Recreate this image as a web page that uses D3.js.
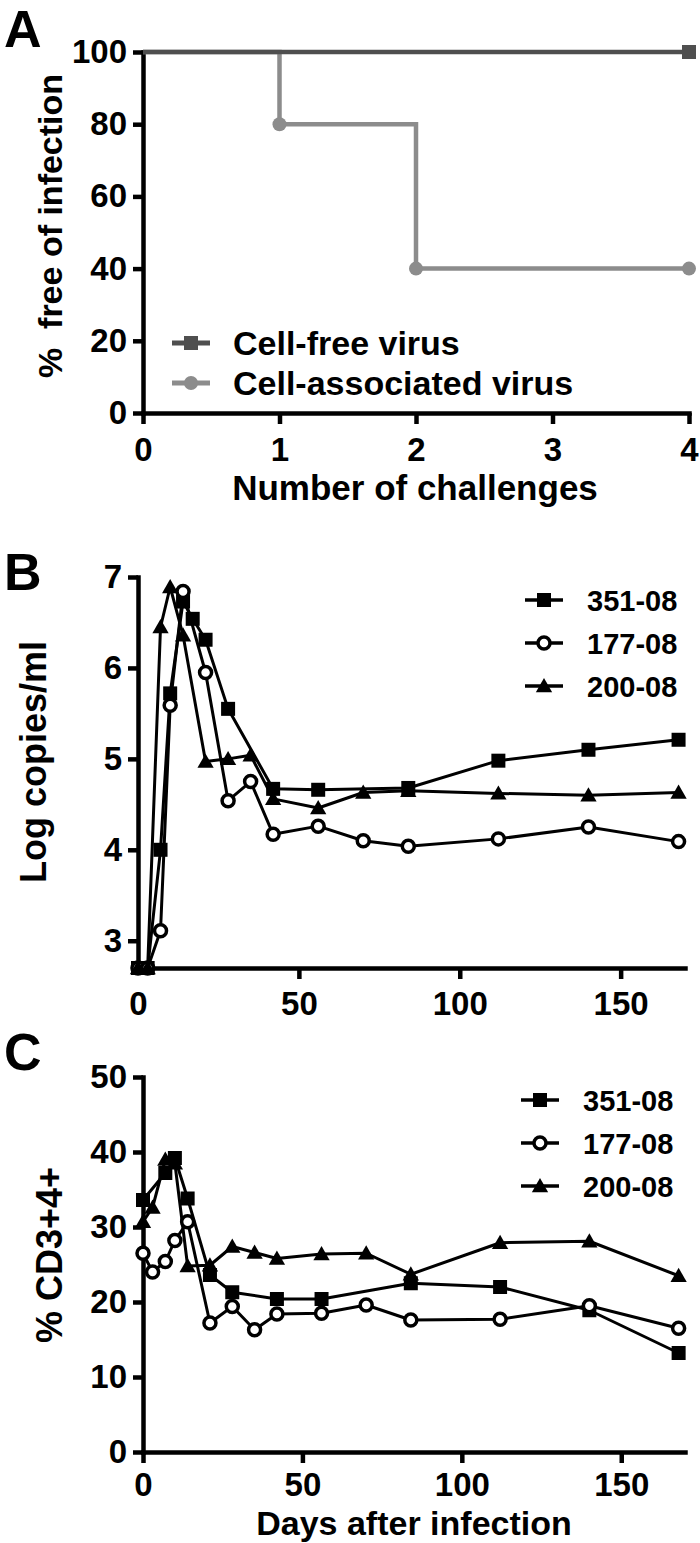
<!DOCTYPE html>
<html><head><meta charset="utf-8">
<script src="https://cdn.jsdelivr.net/npm/d3@7"></script>
<style>
body{margin:0;background:#fff}
svg{display:block}
text{font-family:"Liberation Sans",Arial,sans-serif;font-weight:bold;fill:#000}
</style>
</head><body>
<svg id="chart" width="700" height="1543"></svg>
<script>
// ---------- Panel A data ----------
const challenges = [0, 1, 2, 4];
const cellFree = [100, 100, 100, 100];
const cellAssoc = [100, 80, 40, 40];
const cellFreeMarks = [4];
const cellAssocMarks = [1, 2, 4];
const aXTicks = [0, 1, 2, 3, 4];
const aYTicks = [0, 20, 40, 60, 80, 100];
const aLegend = ["Cell-free virus", "Cell-associated virus"];

// ---------- Panel B data (log copies/ml) ----------
const daysB351 = [0, 3, 7, 10, 14, 17, 21, 28, 42, 56, 84, 112, 140, 168];
const logB351  = [2.7, 2.7, 4.0, 5.72, 6.73, 6.54, 6.31, 5.55, 4.67, 4.66, 4.68, 4.98, 5.10, 5.21];
const daysB177 = [0, 3, 7, 10, 14, 21, 28, 35, 42, 56, 70, 84, 112, 140, 168];
const logB177  = [2.7, 2.7, 3.11, 5.59, 6.84, 5.95, 4.54, 4.75, 4.17, 4.26, 4.10, 4.04, 4.12, 4.25, 4.09];
const daysB200 = [0, 3, 7, 10, 14, 21, 28, 35, 42, 56, 70, 84, 112, 140, 168];
const logB200  = [2.7, 2.7, 6.45, 6.89, 6.36, 4.97, 5.00, 5.04, 4.56, 4.46, 4.63, 4.65, 4.62, 4.60, 4.63];
const bXTicks = [0, 50, 100, 150];
const bYTicks = [3, 4, 5, 6, 7];

// ---------- Panel C data (% CD3+4+) ----------
const daysC351 = [0, 7, 10, 14, 21, 28, 42, 56, 84, 112, 140, 168];
const pctC351  = [33.6, 37.2, 39.2, 33.8, 23.6, 21.3, 20.4, 20.4, 22.5, 22.0, 18.9, 13.2];
const daysC177 = [0, 3, 7, 10, 14, 21, 28, 35, 42, 56, 70, 84, 112, 140, 168];
const pctC177  = [26.5, 24.0, 25.4, 28.2, 30.7, 17.2, 19.4, 16.3, 18.4, 18.5, 19.6, 17.6, 17.7, 19.5, 16.5];
const daysC200 = [0, 3, 7, 10, 14, 21, 28, 35, 42, 56, 70, 84, 112, 140, 168];
const pctC200  = [30.7, 32.6, 39.0, 38.5, 24.8, 24.9, 27.4, 26.6, 25.8, 26.4, 26.5, 23.7, 27.9, 28.1, 23.5];
const cXTicks = [0, 50, 100, 150];
const cYTicks = [0, 10, 20, 30, 40, 50];

const animals = ["351-08", "177-08", "200-08"];
const symbols = ["square", "circle", "triangle"];

const svg = d3.select("#chart");
const AXW = 4.5;
const fmt = d3.format("d");

function styleAxis(g, fs) {
  g.select(".domain").attr("stroke", "#000").attr("stroke-width", AXW).attr("stroke-linecap", "square");
  g.selectAll(".tick line").attr("stroke", "#000").attr("stroke-width", AXW);
  g.selectAll(".tick text").style("font-size", fs + "px").style("font-weight", "bold")
    .style("font-family", '"Liberation Sans",Arial,sans-serif').attr("fill", "#000");
}

function marker(g, type, cx, cy, color) {
  if (type === "square") {
    g.append("rect").attr("x", cx - 7).attr("y", cy - 7).attr("width", 14).attr("height", 14).attr("fill", color);
  } else if (type === "circle") {
    g.append("circle").attr("cx", cx).attr("cy", cy).attr("r", 6).attr("fill", "#fff").attr("stroke", color).attr("stroke-width", 3.5);
  } else if (type === "triangle") {
    g.append("path").attr("d", d3.symbol().type(d3.symbolTriangle).size(115)()).attr("transform", `translate(${cx},${cy + 1.5})`).attr("fill", color);
  } else if (type === "dot") {
    g.append("circle").attr("cx", cx).attr("cy", cy).attr("r", 7).attr("fill", color);
  }
}

// ================= Panel A =================
{
  const x = d3.scaleLinear().domain([0, 4]).range([143, 689]);
  const y = d3.scaleLinear().domain([0, 100]).range([413, 52]);
  const g = svg.append("g");
  g.append("text").attr("x", 4).attr("y", 47).style("font-size", "52px").text("A");

  const ya = g.append("g").attr("transform", `translate(${x(0)},0)`)
    .call(d3.axisLeft(y).tickValues(aYTicks).tickFormat(fmt).tickSize(10).tickSizeOuter(0).tickPadding(6));
  styleAxis(ya, 33);
  const xa = g.append("g").attr("transform", `translate(0,${y(0)})`)
    .call(d3.axisBottom(x).tickValues(aXTicks).tickFormat(fmt).tickSize(11).tickSizeOuter(0).tickPadding(14));
  styleAxis(xa, 33);

  const line = d3.line().x((d) => x(d[0])).y((d) => y(d[1])).curve(d3.curveStepAfter);
  const colAssoc = "#8c8c8c", colFree = "#4f4f4f";
  const assocPts = challenges.map((c, i) => [c, cellAssoc[i]]);
  const freePts = challenges.map((c, i) => [c, cellFree[i]]);
  g.append("path").attr("d", line(assocPts)).attr("fill", "none").attr("stroke", colAssoc).attr("stroke-width", 4.5);
  g.append("path").attr("d", line(freePts)).attr("fill", "none").attr("stroke", colFree).attr("stroke-width", 4.5);
  cellAssocMarks.forEach((c) => marker(g, "dot", x(c), y(cellAssoc[challenges.indexOf(c)]), colAssoc));
  cellFreeMarks.forEach((c) => marker(g, "square", x(c), y(cellFree[challenges.indexOf(c)]), colFree));

  // legend
  const legCols = [colFree, colAssoc], legSyms = ["square", "dot"];
  aLegend.forEach((t, i) => {
    const ly = 343 + i * 40;
    g.append("line").attr("x1", 172).attr("x2", 210).attr("y1", ly).attr("y2", ly).attr("stroke", legCols[i]).attr("stroke-width", 5);
    marker(g, legSyms[i], 191, ly, legCols[i]);
    g.append("text").attr("x", 233).attr("y", ly + 12).style("font-size", "34px").text(t);
  });

  g.append("text").attr("transform", `translate(62,226) rotate(-90)`).attr("text-anchor", "middle")
    .style("font-size", "34px").style("white-space", "pre").text("%  free of infection");
  g.append("text").attr("x", 415).attr("y", 500).attr("text-anchor", "middle").style("font-size", "35px").text("Number of challenges");
}

function timePanel(opts) {
  const { x, y, series, label, labelY, yTitle, yTitleY, xTitle, legendY, legendX, xTicks, yTicks } = opts;
  const g = svg.append("g");
  g.append("text").attr("x", 4).attr("y", labelY).style("font-size", "52px").text(label);
  const ya = g.append("g").attr("transform", `translate(${x(0)},0)`)
    .call(d3.axisLeft(y).tickValues(yTicks).tickFormat(fmt).tickSize(10).tickSizeOuter(0).tickPadding(6));
  styleAxis(ya, 33);
  const xa = g.append("g").attr("transform", `translate(0,${y.range()[0]})`)
    .call(d3.axisBottom(x).tickValues(xTicks).tickFormat(fmt).tickSize(11).tickSizeOuter(0).tickPadding(opts.xPad));
  styleAxis(xa, 33);
  if (opts.hideZeroTick) xa.selectAll(".tick line").filter((d) => d === 0).remove();

  const line = d3.line().x((d) => x(d[0])).y((d) => y(d[1]));
  series.forEach((s) => {
    const pts = s.days.map((d, i) => [d, s.vals[i]]);
    g.append("path").attr("d", line(pts)).attr("fill", "none").attr("stroke", "#000").attr("stroke-width", 3).attr("stroke-linejoin", "round");
  });
  series.forEach((s) => {
    s.days.forEach((d, i) => marker(g, s.sym, x(d), y(s.vals[i]), "#000"));
  });
  // legend
  series.forEach((s, i) => {
    const ly = legendY + i * 43;
    g.append("line").attr("x1", legendX).attr("x2", legendX + 38).attr("y1", ly).attr("y2", ly).attr("stroke", "#000").attr("stroke-width", 3.5);
    marker(g, s.sym, legendX + 19, ly, "#000");
    g.append("text").attr("x", legendX + 62).attr("y", ly + 10.5).style("font-size", "29px").text(s.name);
  });
  g.append("text").attr("transform", `translate(${opts.yTitleX},${yTitleY}) rotate(-90)`).attr("text-anchor", "middle")
    .style("font-size", "36px").style("white-space", "pre").text(yTitle);
  if (xTitle) g.append("text").attr("x", 414).attr("y", 1535).attr("text-anchor", "middle").style("font-size", "34px").text(xTitle);
}

// ================= Panel B =================
timePanel({
  x: d3.scaleLinear().domain([0, 170]).range([138, 685]),
  y: d3.scaleLinear().domain([2.7, 7]).range([968, 577]),
  series: [
    { name: animals[0], sym: symbols[0], days: daysB351, vals: logB351 },
    { name: animals[1], sym: symbols[1], days: daysB177, vals: logB177 },
    { name: animals[2], sym: symbols[2], days: daysB200, vals: logB200 }
  ],
  label: "B", labelY: 590, yTitle: "Log copies/ml", yTitleX: 46, yTitleY: 762,
  legendY: 600, legendX: 525, xTicks: bXTicks, yTicks: bYTicks, hideZeroTick: true, xPad: 13
});

// ================= Panel C =================
timePanel({
  x: d3.scaleLinear().domain([0, 170]).range([143, 685]),
  y: d3.scaleLinear().domain([0, 50]).range([1452, 1077]),
  series: [
    { name: animals[0], sym: symbols[0], days: daysC351, vals: pctC351 },
    { name: animals[1], sym: symbols[1], days: daysC177, vals: pctC177 },
    { name: animals[2], sym: symbols[2], days: daysC200, vals: pctC200 }
  ],
  label: "C", labelY: 1070, yTitle: "% CD3+4+", yTitleX: 62, yTitleY: 1255,
  xTitle: "Days after infection",
  legendY: 1100, legendX: 521, xTicks: cXTicks, yTicks: cYTicks, xPad: 10
});
</script>
</body></html>
